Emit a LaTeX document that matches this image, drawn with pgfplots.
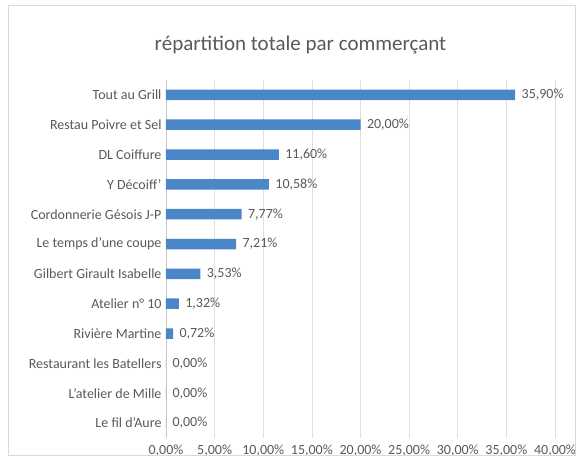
\documentclass[border=0pt]{standalone}
\usepackage{pgfplots}
\pgfplotsset{compat=1.18}
\usepackage{fontspec}
\setmainfont{Carlito}
\definecolor{barblue}{RGB}{74,134,200}
\definecolor{txt}{RGB}{89,89,89}
\pgfplotstableread[col sep=comma]{
y,val
0,0.00
1,0.00
2,0.00
3,0.72
4,1.32
5,3.53
6,7.21
7,7.77
8,10.58
9,11.60
10,20.00
11,35.90
}\datatable
\begin{document}
\begin{tikzpicture}
\begin{axis}[
  name=ax,
  scale only axis,
  width=389pt, height=358pt,
  xbar, bar width=10.5pt,
  xmin=0, xmax=40,
  ymin=-0.5, ymax=11.5,
  xtick={0,5,...,40},
  ytick={0,...,11},
  yticklabels={Le fil d'Aure, L'atelier de Mille, Restaurant les Batellers, Rivière Martine, Atelier n° 10, Gilbert Girault Isabelle, Le temps d'une coupe, Cordonnerie Gésois J-P, Y Décoiff', DL Coiffure, Restau Poivre et Sel, Tout au Grill},
  xticklabel={\pgfmathprintnumber[fixed,fixed zerofill,precision=2,use comma]{\tick}\%},
  /pgf/number format/assume math mode=true,
  xmajorgrids, major grid style={gray!25, line width=0.6pt},
  axis lines*=left,
  x axis line style={draw=none},
  y axis line style={gray!45, line width=0.6pt},
  major tick length=0pt,
  tick label style={font=\fontsize{14}{16}\selectfont, text=txt},
  yticklabel style={xshift=-1pt},
  xticklabel style={yshift=-3pt},
  nodes near coords={\pgfmathprintnumber[fixed,fixed zerofill,precision=2,use comma]{\pgfplotspointmeta}\%},
  nodes near coords style={font=\fontsize{14}{16}\selectfont, text=txt, anchor=west, xshift=3pt},
  point meta=explicit,
  clip=false,
]
\addplot[fill=barblue, draw=none] table[x=val, y=y, meta=val] {\datatable};
\end{axis}
\useasboundingbox ([shift={(-166pt,-21pt)}]ax.south west) rectangle ([shift={(25pt,80pt)}]ax.north east);
\draw[gray!30, line width=0.8pt] ([shift={(-158pt,-17pt)}]ax.south west) rectangle ([shift={(20pt,75pt)}]ax.north east);
\node[font=\fontsize{21}{24}\selectfont, text=txt] at ([shift={(-60pt,35pt)}]ax.north) {répartition totale par commerçant};
\end{tikzpicture}
\end{document}
